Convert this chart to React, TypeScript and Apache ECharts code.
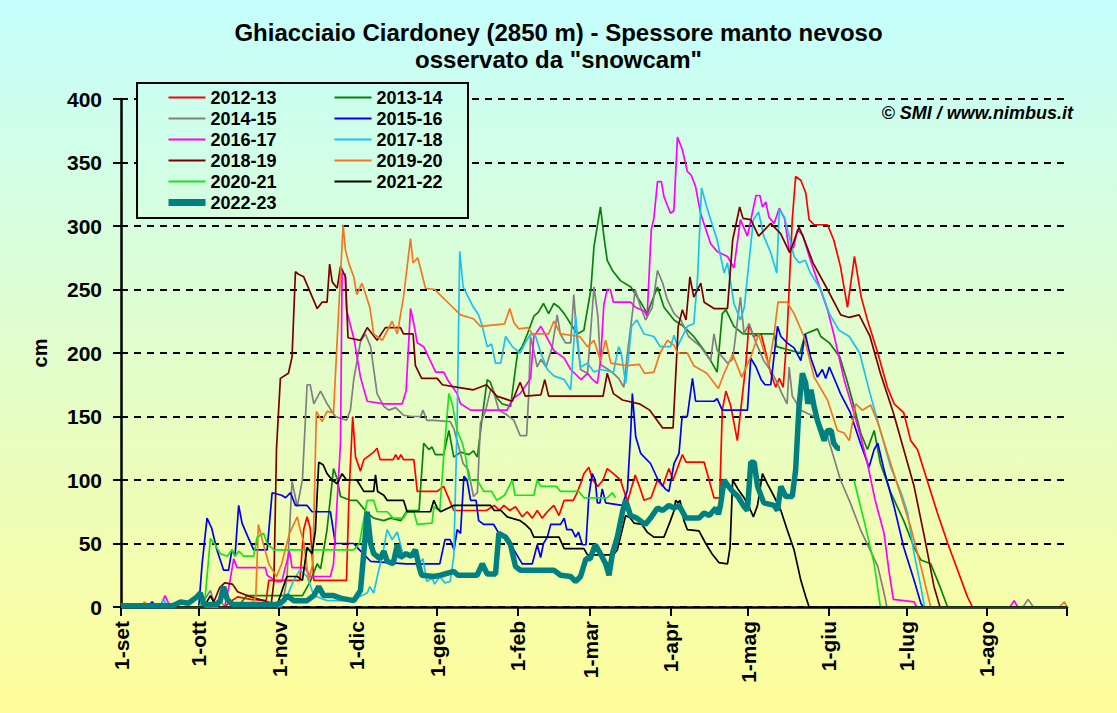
import React, { useEffect, useRef } from "react";
import * as echarts from "echarts";

const FONT = '"Liberation Sans", Arial, Helvetica, sans-serif';

// day index counted from 1 September
const monthDays = [0, 30, 61, 91, 122, 153, 181, 212, 242, 273, 303, 334];
const monthLabels = ["1-set", "1-ott", "1-nov", "1-dic", "1-gen", "1-feb", "1-mar", "1-apr", "1-mag", "1-giu", "1-lug", "1-ago"];
const tickDays = [...monthDays, 365];

const seasons = ["2012-13", "2013-14", "2014-15", "2015-16", "2016-17", "2017-18", "2018-19", "2019-20", "2020-21", "2021-22", "2022-23"];
const colors = ["#ff0000", "#0a800a", "#808080", "#0000ee", "#ff00ff", "#1ec0f0", "#7a0000", "#f07820", "#1fe01f", "#000000", "#008080"];

const s1213 = [[0,0],[40,0],[42,4],[45,8],[50,6],[56,5],[57,21],[69,21],[70.5,61],[71.8,71],[73,62],[74.4,21],[87,21],[88,90],[89.4,150],[90.5,118],[92.4,107],[93.7,116],[97.5,122],[98.8,125],[100,116],[105,116],[106,120],[107,116],[108,120],[109,116],[113,116],[114.3,91],[122,91],[124.5,95],[128.4,76],[141,76],[144,80],[146,76],[147.7,80],[150,76],[152.2,79],[154.8,71],[156.7,75],[158.7,70],[160.6,76],[162.5,70],[164.5,75],[167,80],[169,72],[171,84],[174.5,84],[176,90],[177.3,97],[178.6,105],[180.5,110],[182,100],[184,95],[186,100],[187.6,109],[190,105],[192.7,100],[195.4,83],[198.4,104],[200,95],[201.8,84],[204.5,86],[207,100],[209,95],[211.4,109],[213,100],[216.6,120],[218,114],[225,114],[228.8,86],[231,86],[232,155],[233.4,170],[235.3,158],[237.8,131],[239,153],[241,189],[242.3,223],[244,213],[247,215],[248.8,200],[250.7,184],[252.6,173],[254,180],[255.5,173],[257,215],[259,305],[260.3,339],[262.3,336],[264.2,326],[265.5,305],[267.4,301],[272.6,301],[275,289],[277.6,268],[280.3,236],[283,276],[285.6,244],[288,226],[292,200],[295.7,173],[298.3,160],[302,153],[304.7,131],[307.3,124],[311,100],[315,74],[319,50],[322.8,29],[326.6,8],[328.5,0],[365,0]];

const s1314 = [[0,0],[45,0],[48.6,9],[61.5,9],[70,9],[73,20],[75.7,34],[77,30],[79.5,61],[82,109],[83.4,101],[84.7,87],[88.5,84],[91,84],[95,74],[97.5,70],[101.4,68],[104,70],[108,68],[110.4,76],[115,76],[116.8,129],[118.8,124],[120,126],[121.3,120],[124.5,120],[126.5,139],[128.4,118],[131,122],[134.2,120],[136,123],[137.5,118],[139.4,150],[141.3,179],[142.5,177],[144.5,166],[147,160],[150.3,158],[153,200],[154.8,205],[156.8,215],[159.3,229],[161,232],[163,239],[165,231],[167,239],[169,236],[171,231],[173.5,223],[176,215],[178.6,218],[181.3,250],[182.5,284],[185,315],[186.3,292],[187.6,273],[189.6,265],[192.7,257],[196.7,252],[200.5,240],[203,231],[207,252],[209.5,236],[213.4,226],[217,221],[221,213],[225,202],[227.5,194],[230,185],[232,231],[233.4,234],[236.5,221],[240,215],[252,215],[253,205],[262,200],[264,215],[268.7,219],[270,213],[273.3,208],[277.3,197],[280,179],[282.8,158],[285.4,137],[288,124],[290.6,139],[293,113],[297,90],[302,68],[306,47],[308.6,37],[312.4,34],[316,16],[318.9,0],[365,0]];

const s1415 = [[0,0],[30,0],[32,5],[34.5,13],[36,3],[38,6],[40,0],[62,0],[64,21],[66,99],[68,79],[70,100],[71.8,175],[73,175],[74.4,160],[77,170],[79.5,160],[82.7,150],[87,147],[88.5,155],[89.8,179],[92.4,209],[94.3,215],[96.3,205],[98.8,168],[101.4,158],[103.3,155],[106,157],[109,151],[112,150],[115.6,150],[116.5,155],[118,147],[120.7,147],[127,146],[128.5,140],[132,113],[134,108],[136,87],[137.5,90],[138.7,145],[140.6,154],[142.6,171],[143.5,171],[145.8,155],[148.4,152],[151.6,147],[154,135],[156.5,135],[157.4,171],[158,213],[160.6,189],[162,195],[164,189],[166.4,205],[168.3,230],[169.5,215],[171.5,208],[173.5,208],[174.7,246],[176,210],[177.3,187],[180,184],[182.5,252],[184,229],[185,191],[188,187],[190,184],[192,180],[194,173],[195.4,200],[197,226],[198.4,250],[200.5,236],[202.4,226],[205,236],[207,265],[209,255],[210.8,242],[213.4,231],[216,226],[219,213],[223.6,205],[227.5,194],[228.8,215],[230,202],[234,192],[236,195],[239,244],[240.4,215],[242.3,223],[245,208],[248,194],[251.3,184],[253.3,176],[255,168],[257,160],[257.8,189],[259,166],[262.3,155],[267.4,150],[272.6,134],[275,118],[277.6,100],[281.4,82],[285.3,61],[289,45],[292,32],[294.4,11],[295.5,0],[348,0],[350,6],[352,0],[365,0]];

const s1516 = [[0,0],[10,0],[12,4],[14,0],[30,0],[31.3,34],[33.2,70],[35,62],[37,45],[39.6,29],[41.5,29],[42.8,45],[44,40],[45.4,80],[46.7,66],[49,55],[51.2,45],[56.4,45],[58.3,90],[62,88],[63.5,86],[65.4,90],[67.3,80],[71.8,80],[73.7,75],[80.8,75],[82.7,50],[89.8,50],[92,45],[96.3,36],[110,34],[123,34],[125,53],[127,53],[128.5,45],[129.7,61],[131,58],[132.3,103],[133.5,100],[134.9,84],[137,84],[138,68],[140,65],[143.8,65],[145.8,58],[149,55],[151.6,45],[154.8,34],[158.7,34],[160.6,49],[161.9,39],[163,50],[164.5,55],[165.8,65],[169.6,65],[171,70],[172,61],[174,61],[175.4,55],[176.5,59],[178,49],[179.4,49],[180.5,87],[181.8,105],[183,100],[183.8,82],[184.8,82],[185.7,93],[187,82],[193.4,80],[195.4,92],[196.7,139],[197.3,168],[198.6,134],[200.5,121],[204.3,113],[207,101],[210,93],[211.4,91],[213.4,113],[215.3,121],[216.5,150],[218.5,150],[220.5,180],[221.7,162],[228.8,162],[230,164],[232,155],[241.7,155],[243,196],[245,189],[247,179],[248.5,175],[250.7,175],[253.3,221],[254.6,213],[257,208],[259.7,204],[262.3,194],[264,215],[266,197],[268.7,181],[270.6,187],[271.9,180],[273.3,189],[276,176],[277.6,168],[281.4,153],[285.3,129],[288.6,110],[290.6,124],[292,129],[294.4,108],[298.3,79],[302,47],[306,21],[308.6,3],[309.5,0],[365,0]];

const s1617 = [[0,0],[15,0],[17,9],[19,0],[40,0],[42,20],[43.5,38],[44.8,31],[55.7,31],[56.4,25],[60,20],[62,20],[65,44],[66,31],[71,31],[73,24],[80.8,24],[82,34],[84.7,129],[85.3,263],[86.5,262],[87,234],[90,210],[92.4,181],[95,162],[101.4,160],[108.5,160],[110,170],[111.7,235],[113,223],[114.3,208],[116.8,205],[121.4,185],[124.5,185],[126,179],[129.7,168],[131,160],[134.9,155],[149,155],[151,164],[154,168],[158,180],[159.3,213],[162,221],[167,202],[171,196],[173.5,187],[177.5,179],[180,184],[182,179],[183.8,176],[185,193],[186.3,238],[187.6,250],[188.8,250],[190,240],[196.7,240],[198.5,236],[201.8,233],[203,229],[204.6,297],[205.6,306],[207,335],[208.5,335],[209.5,323],[212,310],[213.3,312],[214.7,370],[216.6,360],[218.5,343],[220,340],[221.7,331],[223.6,310],[227.5,286],[230,280],[234,276],[236.5,267],[239,305],[241.7,292],[245,324],[246.5,324],[247.5,315],[248.8,319],[250,307],[252,302],[254,314],[256,306],[257.8,281],[259.5,283],[261,297],[263,293],[266,273],[268.7,257],[272.6,234],[275,215],[279,179],[282.8,153],[285.4,134],[288,113],[291,84],[294.4,58],[296.4,27],[298,6],[306,4],[307,0],[343,0],[344.6,5],[346,0],[365,0]];

const s1718 = [[0,0],[15,0],[16.5,6],[18,0],[60,0],[61.5,1],[64,8],[66.6,21],[69,29],[71.8,24],[74.4,9],[79.5,5],[89.8,5],[92,8],[95,11],[96,16],[97.5,11],[99,25],[101,42],[102.7,61],[104.6,53],[106.6,59],[109,40],[111.5,40],[113,45],[115,34],[116.5,38],[118,20],[120,23],[121,18],[123,24],[125,19],[127,20],[128.4,40],[129.7,145],[130.7,280],[132,252],[136,236],[138,230],[139.4,221],[141.3,205],[143,207],[144.5,192],[146.5,192],[148.4,213],[151,205],[154,200],[156,208],[158,215],[160,213],[162,200],[164.5,187],[167,182],[171,179],[173.5,171],[175.4,229],[176.5,205],[177.3,189],[180,192],[182.5,185],[185,187],[190,185],[192,205],[193,200],[194.7,176],[196,200],[197,221],[199,226],[201.8,215],[205.6,213],[208,205],[212,205],[213.4,214],[214.7,205],[218.5,221],[221,223],[222.4,257],[224,330],[226,315],[230,289],[232.7,263],[234,271],[236.5,239],[239,226],[240.5,236],[241.7,260],[244,305],[246,311],[248,292],[250.7,279],[253,263],[254,313],[256,307],[257.8,292],[259.7,276],[261.6,271],[264,273],[266,263],[270,250],[273.3,231],[277,218],[281,213],[285,200],[289,168],[293,139],[297,110],[301,90],[303.5,74],[306,42],[308.6,16],[310,0],[365,0]];

const s1819 = [[0,0],[35,0],[38,15],[40,19],[43,18],[45,12],[50,8],[55,5],[58,3],[59,20],[60,125],[61.5,180],[64.6,184],[66,197],[67.3,264],[68.5,262],[70.5,260],[75.7,235],[77.6,240],[79.5,240],[80.5,270],[81.5,256],[83.4,251],[84.7,268],[86.6,260],[87.6,212],[92.4,210],[95,220],[98.8,210],[102,220],[107.8,220],[109,215],[112.7,215],[113.6,190],[116,180],[122,180],[124,175],[130,173],[136,171],[141,175],[145,166],[151,162],[154,177],[156,166],[162,167],[163.5,179],[165,166],[180,166],[186,166],[187.6,184],[190,168],[193.5,163],[200,160],[204,155],[209,141],[213,141],[215,221],[216.6,234],[218,226],[219.5,260],[221,244],[223.7,255],[225,240],[228.8,235],[234,235],[236,289],[238.7,315],[240,306],[243,305],[246,292],[250.7,302],[254.5,294],[258,279],[261.6,299],[263.5,290],[267,271],[272.6,250],[277.7,230],[281,228],[284.8,230],[289,213],[293,184],[298,153],[302,124],[306,95],[310,55],[313.7,16],[316,0],[365,0]];

const s1920 = [[0,0],[8,0],[9,4],[11,0],[50,0],[52,8],[53,65],[55,49],[57,34],[60,24],[62,34],[64,50],[65,58],[68,71],[69,62],[70.5,51],[72.4,21],[74,34],[75.4,154],[77.6,146],[79.5,154],[82,153],[84,234],[85.7,301],[86.6,281],[88,270],[89.8,260],[91,246],[93,255],[96,236],[97.5,215],[100.8,210],[104.6,225],[106.6,215],[109,244],[111.7,290],[112.7,271],[114.5,275],[117.5,251],[121,250],[124,244],[127,238],[131,230],[136,227],[138.7,221],[148,223],[150,235],[151.6,224],[153.5,219],[157,220],[158.7,215],[165,215],[167,225],[169.6,215],[177,213],[180,205],[182.5,210],[185,194],[187,210],[189,192],[195,190],[200,191],[202,184],[205.6,185],[208,200],[210.8,210],[213.4,206],[214.7,200],[218.5,200],[221,190],[226,184],[230.5,172],[232.7,184],[236,199],[239.5,181],[243,197],[246,215],[248,202],[250,190],[252,215],[253.5,240],[257,240],[259.7,231],[263.5,213],[267.4,181],[272.6,163],[276.4,139],[279,137],[281,131],[283.5,160],[286,155],[289.3,159],[292,145],[295.7,121],[301,87],[304.7,63],[308.6,32],[312.4,0],[362,0],[364,4],[365,0]];

const s2021 = [[0,0],[30,0],[32.5,8],[34.5,54],[36,50],[38.3,42],[41,40],[42.8,45],[44,40],[45.5,44],[47.3,40],[51.2,40],[52.5,55],[55,58],[56.4,50],[59,45],[89.8,45],[92,50],[95,84],[97.5,84],[98.8,75],[102.7,75],[105,70],[109,70],[110.4,75],[113,75],[114.3,65],[120,66],[120.7,79],[123,76],[124.5,118],[126.5,168],[127.8,160],[129.7,139],[131.7,129],[133,118],[134.2,100],[137.4,100],[140,91],[143,91],[145,84],[148,88],[151,100],[152,88],[159.3,88],[160.6,100],[162,95],[168,95],[169.6,91],[176.7,91],[178.6,86],[187.6,86],[189.6,90],[190.8,86],[191.5,"-"],[282.8,100],[286.7,68],[290.6,34],[293,0],[365,0]];

const s2122 = [[0,0],[32,0],[34.5,9],[36,3],[38,0],[60,0],[62.8,17],[64,24],[68,24],[70,21],[71.8,47],[73.7,42],[75,60],[76.3,114],[78,112],[79.5,105],[81.5,100],[83.4,97],[85.3,105],[87,100],[91,100],[93.7,91],[97.5,91],[98.2,104],[99,91],[101.4,88],[102.7,84],[109,84],[110.4,75],[119.4,75],[120.7,84],[122,78],[123.3,75],[128.4,80],[142.6,80],[144,76],[146.6,76],[149,71],[154,68],[156,65],[158,61],[159.3,55],[169,55],[171,46],[178.6,46],[180,41],[190,41],[191.5,45],[193.4,61],[194.7,72],[196.5,70],[198,66],[201,65],[203,59],[205.6,55],[209.5,55],[212,68],[213.4,76],[214,84],[215,82],[215.7,84],[217.2,68],[218.5,61],[223,60],[225.6,50],[228,42],[230.7,35],[234,34],[235,47],[236,100],[238,93],[240.4,86],[242.3,79],[244,71],[245.6,80],[247.5,105],[249.4,97],[252,87],[254.6,76],[257,61],[259.7,45],[262.3,21],[264.2,8],[265.5,0],[365,0]];

const s2223 = [[0,1],[20,1],[23,4],[26,3],[29.3,8],[30.6,11],[32,2],[37,2],[38.3,5],[39.6,16],[41,6],[43,2],[60,2],[62.8,5],[64,9],[66.6,5],[71.8,5],[74.4,9],[76.3,16],[78.2,9],[82,9],[84.7,7],[89.8,5],[92.4,13],[94,50],[95,75],[96.3,50],[97.5,42],[100,38],[101.4,44],[102.7,36],[105,34],[106.6,49],[107.8,39],[110,42],[112,40],[113.6,45],[115,32],[116,25],[120.7,24],[123.3,25],[128.4,28],[130,25],[137.4,25],[139.4,34],[141.3,26],[144.5,26],[145.8,58],[148.4,55],[150.3,49],[152.2,32],[154,29],[167,29],[169.6,25],[173.5,24],[175.4,20],[177.3,24],[179.4,38],[181,38],[183,49],[185,42],[187,34],[188.3,25],[189.6,42],[191.5,55],[193.5,75],[194.7,84],[196.6,72],[199,70],[202.3,65],[204.3,70],[207,78],[209,76],[211.4,80],[213.4,78],[215.3,80],[218,70],[223,70],[225,74],[227,72],[229.5,78],[230.5,73],[231.3,80],[232.7,100],[234,96],[236,91],[238,87],[240.4,79],[241.7,76],[243,114],[244.3,114],[245.6,95],[248,82],[252,80],[253.3,76],[254.6,95],[256.5,87],[259,87],[260.3,108],[261.6,158],[262.9,184],[264.2,176],[265,160],[266.2,171],[267.4,158],[268.7,147],[271.3,131],[272.6,139],[274,139],[275,129],[276.4,125],[277.4,125]];

const seriesData = [s1213, s1314, s1415, s1516, s1617, s1718, s1819, s1920, s2021, s2122, s2223];

const TITLE1 = "Ghiacciaio Ciardoney (2850 m) - Spessore manto nevoso";
const TITLE2 = 'osservato da "snowcam"';
const CREDIT = "\u00A9 SMI / www.nimbus.it";

export default function App() {
  const ref = useRef<HTMLDivElement>(null);

  useEffect(() => {
    if (!ref.current) return;
    const chart = echarts.init(ref.current, null, { renderer: "svg" });

    const labelFor = (v: number) => {
      const i = monthDays.indexOf(Math.round(v));
      return i >= 0 ? monthLabels[i] : "";
    };

    const widthOf = (i: number) => (i === 10 ? 5.5 : 1.7);

    const series = seasons.map((name, i) => ({
      name,
      type: "line",
      data: seriesData[i],
      showSymbol: false,
      symbol: "none",
      connectNulls: false,
      z: i === 10 ? 5 : 2,
      lineStyle: { color: colors[i], width: widthOf(i) },
      itemStyle: { color: colors[i] },
      emphasis: { disabled: true },
    }));

    const bold = { fontFamily: FONT, fontWeight: "bold" as const, color: "#000" };

    chart.setOption({
      animation: false,
      backgroundColor: "transparent",
      textStyle: { fontFamily: FONT },
      title: [
        { text: TITLE1, left: "center", top: 15, textStyle: { ...bold, fontSize: 24 } },
        { text: TITLE2, left: "center", top: 42, textStyle: { ...bold, fontSize: 24 } },
      ],
      grid: { left: 121, right: 50, top: 99, bottom: 106, containLabel: false, outerBoundsMode: "none" },
      legend: {
        data: seasons.map((name, i) => ({
          name,
          lineStyle: { color: colors[i], width: i === 10 ? 7 : 2 },
        })),
        left: 165,
        top: 88,
        width: 340,
        orient: "horizontal",
        padding: 0,
        itemWidth: 37,
        itemHeight: 10,
        itemGap: 2,
        selectedMode: false,
        z: 6,
        itemStyle: { opacity: 0 },
        textStyle: { ...bold, fontSize: 18, width: 121, lineHeight: 19 },
      },
      xAxis: {
        type: "value",
        min: 0,
        max: 365,
        axisLine: { show: true, lineStyle: { color: "#000", width: 2.5 } },
        axisTick: { show: true, customValues: tickDays, length: 9, lineStyle: { color: "#000", width: 2 } },
        axisLabel: {
          customValues: monthDays,
          formatter: (v: number) => labelFor(v),
          rotate: 90,
          margin: 14,
          fontSize: 21,
          ...bold,
        },
        splitLine: { show: false },
      },
      yAxis: {
        type: "value",
        min: 0,
        max: 400,
        interval: 50,
        name: "cm",
        nameLocation: "middle",
        nameGap: 71,
        nameTextStyle: { ...bold, fontSize: 20 },
        axisLine: { show: true, lineStyle: { color: "#000", width: 2.5 } },
        axisTick: { show: true, length: 8, lineStyle: { color: "#000", width: 2 } },
        axisLabel: { margin: 19, fontSize: 21, ...bold },
        splitLine: { show: true, lineStyle: { color: "#000", width: 2, type: [7, 6] } },
      },
      graphic: [
        {
          type: "rect",
          z: 4,
          shape: { x: 137, y: 83, width: 331, height: 135 },
          style: {
            fill: new echarts.graphic.LinearGradient(0, 0, 0, 1, [
              { offset: 0, color: "rgb(203,254,241)" },
              { offset: 1, color: "rgb(214,254,222)" },
            ]),
            stroke: "#000",
            lineWidth: 2,
          },
        },
        {
          type: "text",
          z: 4,
          x: 1073,
          y: 113,
          style: {
            text: CREDIT,
            fill: "#000",
            font: `italic bold 18px ${FONT}`,
            align: "right",
            verticalAlign: "middle",
          },
        },
      ],
      series,
    });

    return () => chart.dispose();
  }, []);

  return (
    <div
      ref={ref}
      style={{
        position: "fixed",
        left: 0,
        top: 0,
        width: 1117,
        height: 713,
        background: "linear-gradient(to bottom, #c4fefc 0%, #fffd9a 100%)",
      }}
    />
  );
}
